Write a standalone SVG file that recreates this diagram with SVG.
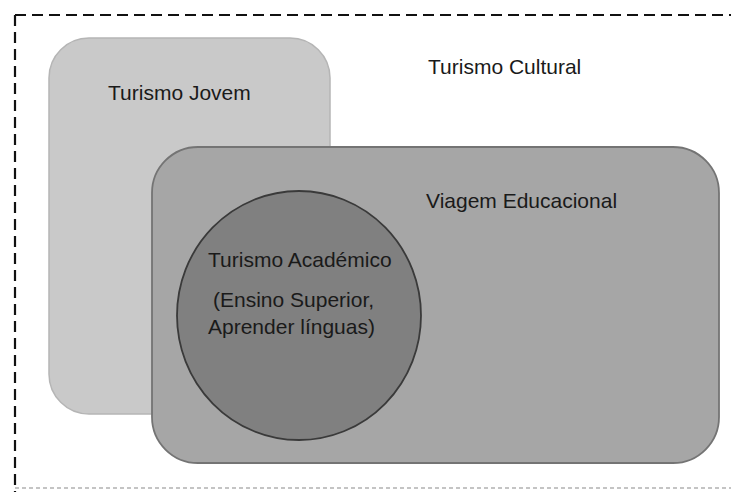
<svg xmlns="http://www.w3.org/2000/svg" width="731" height="492" viewBox="0 0 731 492">
<style>
.t{font-family:"Liberation Sans",Arial,sans-serif;font-size:21px;fill:#1a1a1a}
</style>
<rect width="731" height="492" fill="#fff"/>
<g id="turismo-cultural">
<path d="M15,15 H731" stroke="#111" stroke-width="2.2" stroke-dasharray="11,6" fill="none"/>
<path d="M15,15 V492" stroke="#111" stroke-width="2.2" stroke-dasharray="11,6" fill="none"/>
<path d="M15,488 H731" stroke="#c4c4c4" stroke-width="2" stroke-dasharray="4,3" fill="none"/>
<text class="t" x="428" y="74">Turismo Cultural</text>
</g>
<g id="turismo-jovem">
<rect x="49" y="38" width="281" height="376" rx="40" ry="40" fill="#c9c9c9" stroke="#b5b5b5" stroke-width="1.5"/>
<text class="t" x="108" y="100">Turismo Jovem</text>
</g>
<g id="viagem-educacional">
<rect x="152" y="147" width="567" height="316" rx="46" ry="46" fill="#a6a6a6" stroke="#747474" stroke-width="1.8"/>
<text class="t" x="426" y="208">Viagem Educacional</text>
</g>
<g id="turismo-academico">
<ellipse cx="299" cy="315.5" rx="122" ry="124.5" fill="#808080" stroke="#3a3a3a" stroke-width="1.8"/>
<text class="t" x="208" y="267">Turismo Académico</text>
<text class="t" x="213" y="307">(Ensino Superior,</text>
<text class="t" x="208" y="334">Aprender línguas)</text>
</g>
<g id="connectors"/>
</svg>
